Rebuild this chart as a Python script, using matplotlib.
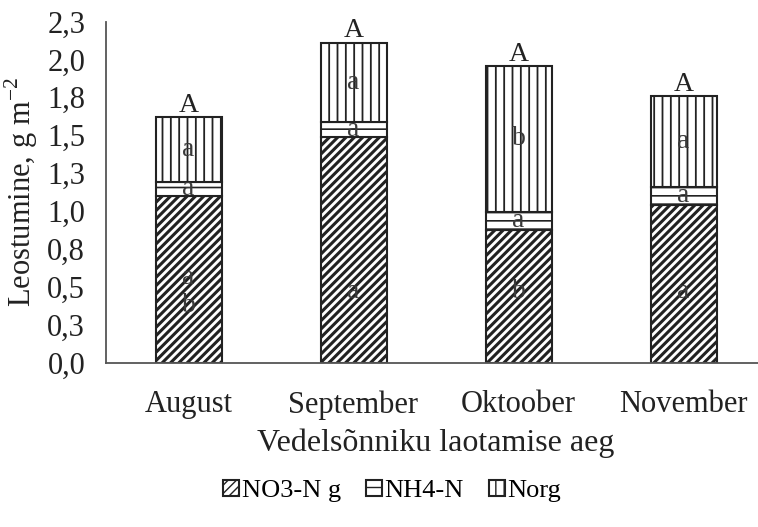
import matplotlib
matplotlib.use("Agg")
import matplotlib.pyplot as plt
import numpy as np

plt.rcParams['font.family'] = ['Liberation Serif', 'DejaVu Serif']
plt.rcParams['mathtext.fontset'] = 'custom'
plt.rcParams['mathtext.rm'] = 'Liberation Serif'
plt.rcParams['hatch.color'] = 'black'

# andmed
months = ['August', 'September', 'Oktoober', 'November']
no3 = [1.10, 1.49, 0.875, 1.04]
nh4 = [0.09, 0.10, 0.12, 0.12]
norg = [0.43, 0.52, 0.96, 0.60]
no3_letters = ['a\nb', 'a', 'b', 'a']
nh4_letters = ['a', 'a', 'a', 'a']
norg_letters = ['a', 'a', 'b', 'a']
total_letters = ['A', 'A', 'A', 'A']
yticks = [0, 0.25, 0.5, 0.75, 1.0, 1.25, 1.5, 1.75, 2.0, 2.25]
ytick_labels = ['0,0', '0,3', '0,5', '0,8', '1,0', '1,3', '1,5', '1,8', '2,0', '2,3']

fig = plt.figure(figsize=(7.58, 5.27), dpi=100)
ax = fig.add_axes([106 / 758, 1 - 362.5 / 527, 660 / 758, (362.5 - 21.5) / 527])

x = np.arange(len(months))
w = 0.4
no3 = np.array(no3)
nh4 = np.array(nh4)
norg = np.array(norg)

b1 = ax.bar(x, no3, w, color='white', edgecolor='#222222', hatch='////', linewidth=1.5, label='NO3-N g')
b2 = ax.bar(x, nh4, w, bottom=no3, color='white', edgecolor='#222222', hatch='--', linewidth=1.5, label='NH4-N')
b3 = ax.bar(x, norg, w, bottom=no3 + nh4, color='white', edgecolor='#222222', hatch='||', linewidth=1.5, label='Norg')
for bars, lw in [(b1, 2.2), (b2, 1.2), (b3, 1.3)]:
    for p in bars:
        if hasattr(p, 'set_hatch_linewidth'):
            p.set_hatch_linewidth(lw)

tc = '#3a3a3a'
for i in range(len(months)):
    ax.text(x[i], 0.47, no3_letters[i], ha='center', va='center', fontsize=20, color=tc, linespacing=1.15)
    ax.text(x[i], no3[i] + nh4[i] / 2, nh4_letters[i], ha='center', va='center', fontsize=20, color=tc)
    ax.text(x[i], no3[i] + nh4[i] + norg[i] * 0.5, norg_letters[i], ha='center', va='center', fontsize=20, color=tc)
    ax.text(x[i], no3[i] + nh4[i] + norg[i] - 0.005, total_letters[i], ha='center', va='bottom', fontsize=20, color='#222222')

ax.set_xlim(-0.5, 3.5)
ax.set_ylim(0, 2.25)
ax.set_yticks(yticks)
ax.set_yticklabels(ytick_labels)
ax.set_xticks(x)
ax.set_xticklabels(months)
ax.tick_params(length=0, labelsize=22, colors='#222222')
ax.tick_params(axis='y', pad=15)
ax.tick_params(axis='x', pad=20)
for s in ['top', 'right']:
    ax.spines[s].set_visible(False)
for s in ['left', 'bottom']:
    ax.spines[s].set_color('#555555')
    ax.spines[s].set_linewidth(1.3)

ax.set_ylabel(r'Leostumine, g m$^{\mathregular{-2}}$', fontsize=22, color='#222222', labelpad=5)
ax.set_xlabel('Vedelsõnniku laotamise aeg', fontsize=23, color='#222222', labelpad=6)

fig.legend(handles=[b1, b2, b3], loc='center', bbox_to_anchor=(392 / 758, 1 - 491 / 527),
           ncol=3, frameon=False, fontsize=19, handlelength=0.6, handleheight=0.6,
           handletextpad=0.1, columnspacing=0.95)

fig.savefig('out.png', dpi=100)
